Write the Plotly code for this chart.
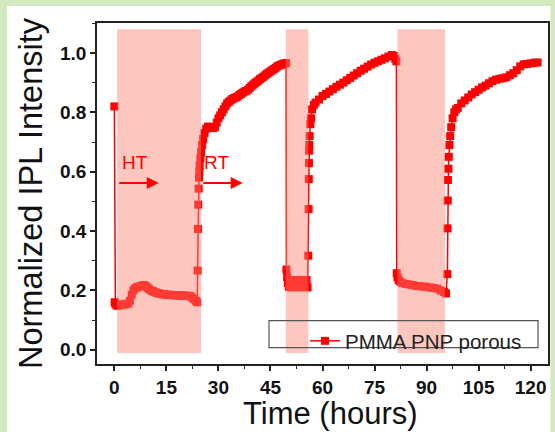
import plotly.graph_objects as go

# ---------------- data ----------------
time_h = [
    0, 0.1,
    0.3, 0.6, 1, 1.5, 2, 2.5, 3, 3.5, 4, 4.5, 5, 5.5, 6, 6.5, 7, 7.5, 8, 8.5, 9, 9.5,
    10, 10.5, 11, 11.5, 12, 12.5, 13, 13.5, 14, 14.5, 15, 15.5, 16, 16.5, 17, 17.5,
    18, 18.5, 19, 19.5, 20, 20.5, 21, 21.5, 22, 22.5, 23, 23.5, 23.9,
    24.0, 24.1, 24.2, 24.3, 24.4, 24.5, 24.6, 24.8, 25.0, 25.3, 25.6, 26.0, 26.5, 27,
    27.5, 28, 28.5, 29, 29.5, 30, 30.5, 31, 31.5, 32, 32.5, 33, 33.5, 34, 34.5, 35,
    35.5, 36, 36.5, 37, 37.5, 38, 38.5, 39, 39.5, 40, 40.5, 41, 41.5, 42, 42.5, 43,
    43.5, 44, 44.5, 45, 45.5, 46, 46.5, 47, 47.5, 48, 48.5, 49, 49.5,
    49.6, 49.8, 50.0, 50.3, 50.6, 51, 51.4, 51.8, 52.2, 52.6, 53, 53.4, 53.8, 54.2,
    54.6, 55, 55.4, 55.7,
    55.9, 56.0, 56.05, 56.1, 56.15, 56.2, 56.3, 56.5, 56.7, 57, 57.5, 58, 59, 60, 61,
    62, 63, 64, 65, 66, 67, 68, 69, 70, 71, 72, 73, 74, 75, 76, 77, 78, 79, 80, 80.5,
    81, 81.3,
    81.4, 81.6, 81.9, 82.3, 83, 84, 85, 86, 87, 88, 89, 90, 91, 92, 93, 94, 95, 95.6,
    96.0, 96.05, 96.1, 96.15, 96.3, 96.4, 96.6, 96.8, 97.1, 97.5, 98, 98.5, 99, 100,
    101, 102, 103, 104, 105, 106, 107, 108, 109, 110, 111, 112, 113, 114, 115, 116,
    117, 118, 119, 120, 121, 122,
]
intensity = [
    0.82, 0.16,
    0.155, 0.15, 0.148, 0.152, 0.15, 0.153, 0.152, 0.155, 0.155, 0.165, 0.185, 0.2,
    0.207, 0.21, 0.212, 0.214, 0.216, 0.218, 0.215, 0.21,
    0.205, 0.2, 0.198, 0.195, 0.193, 0.19, 0.19, 0.188, 0.187, 0.186, 0.185, 0.186,
    0.184, 0.185, 0.184, 0.183,
    0.184, 0.183, 0.183, 0.182, 0.183, 0.182, 0.182, 0.181, 0.18, 0.175, 0.17, 0.165, 0.16,
    0.267, 0.407, 0.489, 0.543, 0.58, 0.60, 0.62, 0.645, 0.665, 0.69, 0.71, 0.73, 0.745, 0.752,
    0.75, 0.748, 0.747, 0.75, 0.765, 0.78, 0.79, 0.80, 0.81, 0.82, 0.83, 0.835, 0.84, 0.845, 0.848, 0.85,
    0.853, 0.858, 0.862, 0.866, 0.87, 0.872, 0.876, 0.882, 0.888, 0.893, 0.898, 0.902, 0.907, 0.912, 0.916, 0.92,
    0.925, 0.93, 0.934, 0.938, 0.942, 0.946, 0.95, 0.955, 0.958, 0.96, 0.963, 0.965, 0.966,
    0.27, 0.245, 0.225, 0.212, 0.232, 0.21, 0.234, 0.212, 0.235, 0.214, 0.232, 0.21, 0.235, 0.214,
    0.232, 0.212, 0.235, 0.21,
    0.317, 0.474, 0.575, 0.629, 0.671, 0.69, 0.72, 0.76, 0.78, 0.81, 0.825, 0.833, 0.843, 0.855, 0.862,
    0.87, 0.878, 0.886, 0.893, 0.9, 0.908, 0.916, 0.924, 0.932, 0.94, 0.947, 0.954, 0.961, 0.967, 0.972, 0.977,
    0.982, 0.988, 0.993, 0.99,
    0.98, 0.972,
    0.258, 0.245, 0.236, 0.23, 0.225, 0.222, 0.22, 0.218, 0.215, 0.214, 0.213, 0.212, 0.21, 0.208,
    0.206, 0.2, 0.195, 0.19,
    0.255, 0.409, 0.503, 0.572, 0.61, 0.65, 0.69, 0.72, 0.75, 0.78, 0.80, 0.81, 0.815, 0.83,
    0.84, 0.85, 0.86, 0.868, 0.876, 0.884, 0.89, 0.898, 0.905, 0.91, 0.913, 0.915, 0.918, 0.925, 0.932, 0.942,
    0.955, 0.962, 0.963, 0.965, 0.967, 0.968,
]

# heating (HT) periods: start / end in hours
ht_start = [0.8, 49.4, 81.6]
ht_end = [25.0, 55.9, 95.3]

series_name = "PMMA PNP porous"
x_title = "Time (hours)"
y_title = "Normalized IPL Intensity"
x_ticks = [0, 15, 30, 45, 60, 75, 90, 105, 120]
y_ticks = [0.0, 0.2, 0.4, 0.6, 0.8, 1.0]

# ---------------- figure ----------------
FONT = "Liberation Sans, Arial, sans-serif"
RED = "#ff0000"

fig = go.Figure()
fig.add_trace(go.Scatter(
    x=time_h, y=intensity, mode="lines+markers", name=series_name,
    line=dict(color=RED, width=1.5),
    marker=dict(symbol="square", size=8, color=RED, line=dict(width=0)),
))

shapes = []
# white card on the green page
shapes.append(dict(type="rect", xref="paper", yref="paper", x0=-0.1996, x1=1.0055,
                   y0=-0.3, y1=1.0499, fillcolor="white", line=dict(width=0), layer="below"))
for s, e in zip(ht_start, ht_end):
    shapes.append(dict(type="rect", xref="x", yref="y", x0=s, x1=e, y0=-0.011, y1=1.08,
                       fillcolor="rgba(250,128,114,0.45)", line=dict(width=0), layer="above"))
# legend box
shapes.append(dict(type="rect", xref="paper", yref="paper",
                   x0=(269 - 97) / 451, x1=(538 - 97) / 451,
                   y0=(364 - 347.7) / 341, y1=(364 - 320.7) / 341,
                   fillcolor="rgba(0,0,0,0)", line=dict(color="#555555", width=1.2), layer="above"))

annotations = [
    dict(x=6.0, y=0.63, text="HT", showarrow=False, font=dict(family=FONT, size=19, color=RED)),
    dict(x=29.4, y=0.63, text="RT", showarrow=False, font=dict(family=FONT, size=19, color=RED)),
    dict(x=12.8, y=0.562, ax=1.0, ay=0.562, axref="x", ayref="y", xref="x", yref="y",
         text="", showarrow=True, arrowhead=2, arrowsize=1.2, arrowwidth=2, arrowcolor=RED),
    dict(x=37.0, y=0.562, ax=25.2, ay=0.562, axref="x", ayref="y", xref="x", yref="y",
         text="", showarrow=True, arrowhead=2, arrowsize=1.2, arrowwidth=2, arrowcolor=RED),
    dict(x=(330 - 97) / 451, y=(364 - 431.5) / 341, xref="paper", yref="paper",
         xanchor="center", yanchor="bottom", showarrow=False, text=x_title, borderpad=0,
         font=dict(family=FONT, size=31, color="#111111")),
]

fig.update_layout(
    width=555, height=432,
    margin=dict(l=97, r=7, t=23, b=68, autoexpand=False),
    paper_bgcolor="#d2e9bd",
    plot_bgcolor="white",
    shapes=shapes,
    annotations=annotations,
    showlegend=True,
    legend=dict(x=(305 - 97) / 451, y=(364 - 321) / 341, xanchor="left", yanchor="top",
                bgcolor="rgba(0,0,0,0)", borderwidth=0,
                font=dict(family=FONT, size=20.5, color="#222222")),
    xaxis=dict(
        range=[-5, 125], tickvals=x_ticks, ticktext=[str(v) for v in x_ticks],
        showline=True, linecolor="#222222", linewidth=1.6, mirror=True,
        ticks="outside", ticklen=5, tickwidth=1.5, tickcolor="#222222",
        minor=dict(dtick=7.5, tick0=0, ticks="outside", ticklen=3, tickwidth=1.2, tickcolor="#222222"),
        showgrid=False, zeroline=False,
        tickfont=dict(family=FONT, size=19, color="#111111", weight="bold"),
    ),
    yaxis=dict(
        range=[-0.048, 1.101], tickvals=y_ticks, ticktext=["%.1f" % v for v in y_ticks],
        showline=True, linecolor="#222222", linewidth=1.6, mirror=True,
        ticks="outside", ticklen=5, tickwidth=1.5, tickcolor="#222222",
        minor=dict(dtick=0.1, tick0=0, ticks="outside", ticklen=3, tickwidth=1.2, tickcolor="#222222"),
        showgrid=False, zeroline=False,
        tickfont=dict(family=FONT, size=19, color="#111111", weight="bold"),
        title=dict(text=y_title, font=dict(family=FONT, size=32.5, color="#111111"), standoff=8),
    ),
)

fig.write_html("out.html", config={"displayModeBar": False},
               post_script="document.body.style.margin='0';document.body.style.overflow='hidden';")
